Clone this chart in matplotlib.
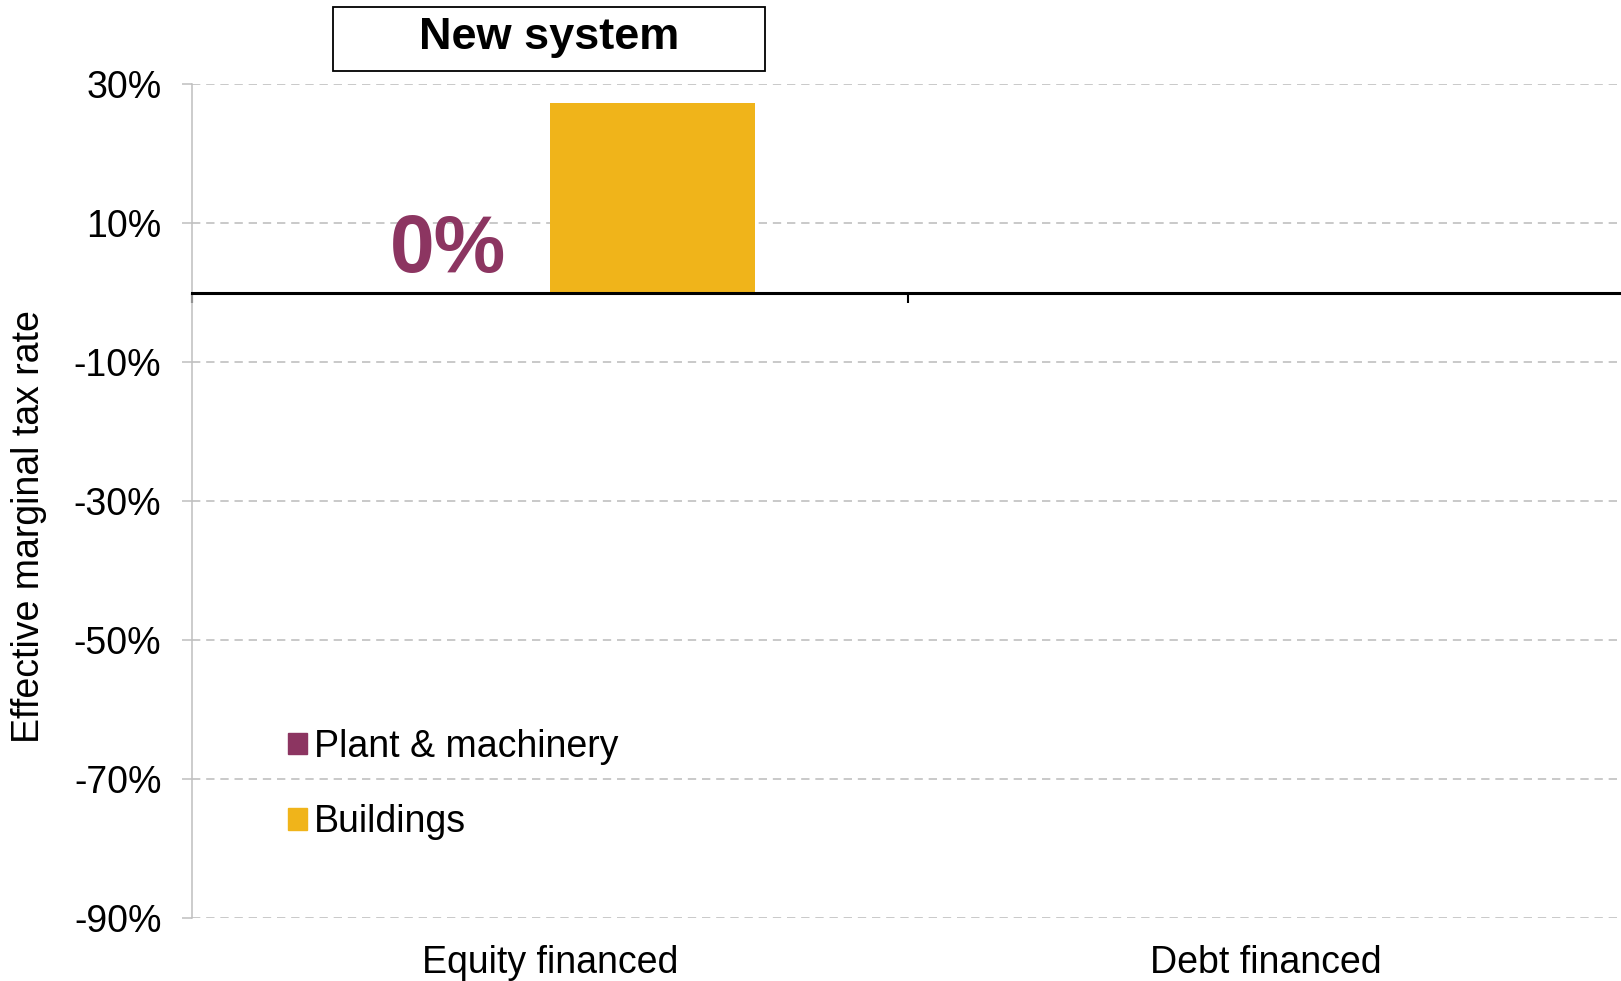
import matplotlib.pyplot as plt
import matplotlib.transforms as mtransforms
from matplotlib.patches import Patch, Rectangle
import numpy as np

plt.rcParams['font.family'] = ['Liberation Sans', 'DejaVu Sans']

categories = ['Equity financed', 'Debt financed']
series_names = ['Plant & machinery', 'Buildings']
plant = [0, 0]
buildings = [27.3, 0]
colours = ['#8C3561', '#F0B41A']
yticks = [30, 10, -10, -30, -50, -70, -90]

fig = plt.figure(figsize=(16.21, 9.81), dpi=100)
ax = fig.add_axes([192 / 1621, 1 - 918 / 981, 1432 / 1621, 834 / 981])

x = np.arange(len(categories))
w = 0.286
ax.bar(x - w / 2, plant, w, color=colours[0], zorder=2)
ax.bar(x + w / 2, buildings, w, color=colours[1], zorder=2)

# value label for plant & machinery, equity financed only
ax.annotate(f'{plant[0]:.0f}%', (x[0] - w / 2, plant[0]), xytext=(0, 15),
            textcoords='offset points', ha='center', va='baseline',
            fontsize=58, fontweight='bold', color=colours[0])

ax.set_xlim(-0.5, 1.5)
ax.set_ylim(-90, 30)
ax.set_yticks(yticks)
ax.set_yticklabels([f'{t}%' for t in yticks], fontsize=27)
ax.yaxis.grid(True, color='#c0c0c0', linestyle=(0, (5, 3.5)), linewidth=1.2)
ax.set_axisbelow(True)
ax.tick_params(axis='y', length=7, width=1.1, color='#bfbfbf', pad=15)

for s in ['top', 'right']:
    ax.spines[s].set_visible(False)
ax.spines['left'].set_color('#bfbfbf')
ax.spines['left'].set_linewidth(1.1)
ax.spines['bottom'].set_position(('data', 0))
ax.spines['bottom'].set_color('black')
ax.spines['bottom'].set_linewidth(2.2)
ax.spines['bottom'].set_zorder(3)

ax.set_xticks([-0.5, 0.5, 1.5])
ax.set_xticklabels([])
ax.tick_params(axis='x', length=7, width=1.5, color='black', direction='out')

trans = mtransforms.blended_transform_factory(ax.transData, fig.transFigure)
for xi, cat in zip(x, categories):
    ax.text(xi, 1 - 973 / 981, cat, transform=trans, ha='center', va='baseline',
            fontsize=27, clip_on=False)

fig.text(29 / 1621, 1 - 527 / 981, 'Effective marginal tax rate', rotation=90,
         ha='center', va='center', fontsize=27)

handles = [Patch(color=c) for c in colours]
ax.legend(handles, series_names, loc='upper left',
          bbox_to_anchor=(288 / 1621, 1 - 729 / 981), bbox_transform=fig.transFigure,
          frameon=False, fontsize=27, handlelength=0.5, handleheight=0.5,
          handletextpad=0.2, labelspacing=1.05, borderpad=0, borderaxespad=0)

# boxed title
fig.patches.append(Rectangle((333 / 1621, 1 - 71 / 981), 432 / 1621, 64 / 981,
                             transform=fig.transFigure, facecolor='white',
                             edgecolor='black', linewidth=1.3))
fig.text(549 / 1621, 1 - 37 / 981, 'New system', ha='center', va='center',
         fontsize=32.5, fontweight='bold')

fig.savefig('out.png', dpi=100)
